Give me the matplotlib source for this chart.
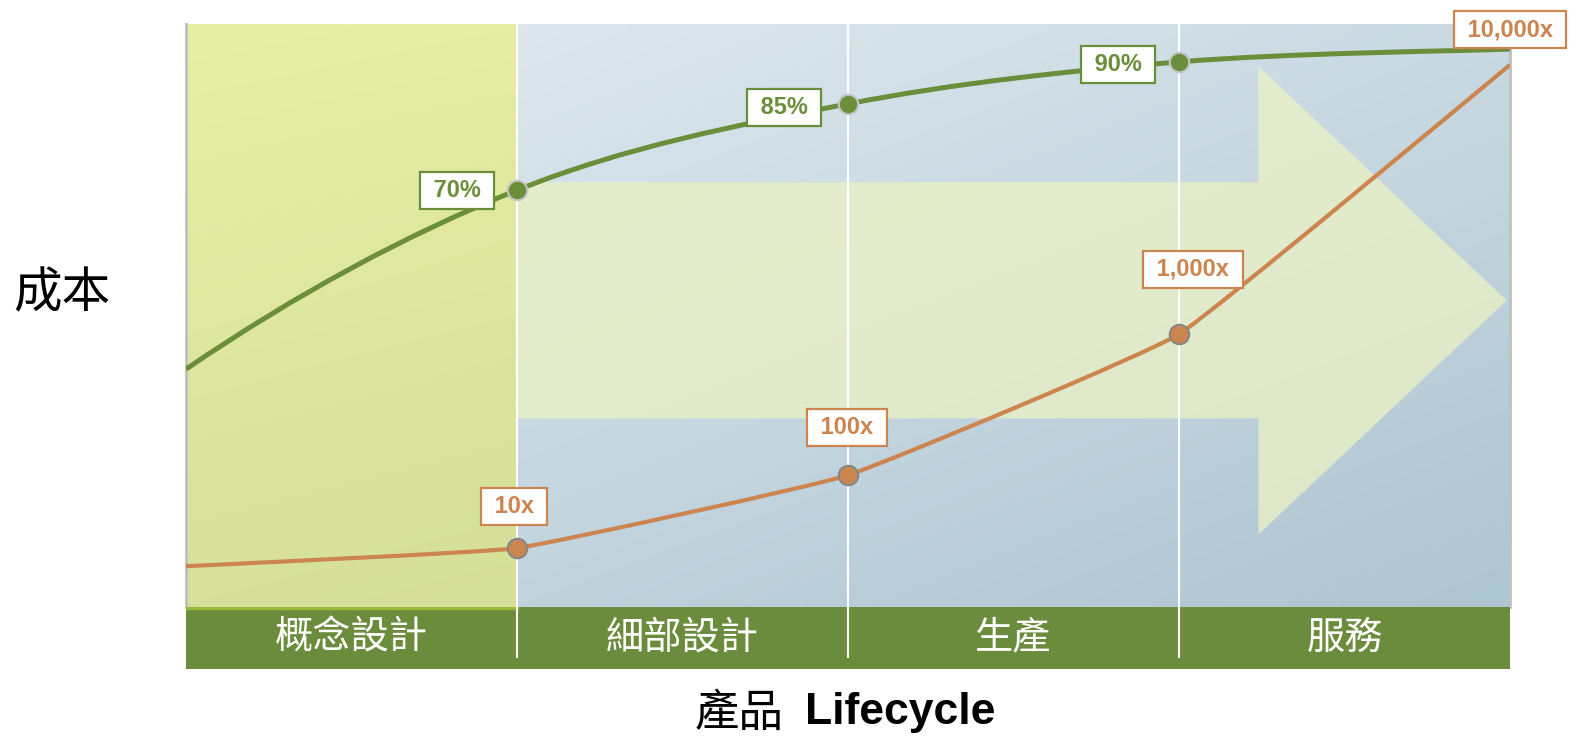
import numpy as np
import matplotlib
matplotlib.use("Agg")
import matplotlib.pyplot as plt
from matplotlib.path import Path
from matplotlib.patches import PathPatch, FancyArrow
from matplotlib.colors import to_rgb

plt.rcParams['font.family'] = ['Noto Sans CJK TC', 'DejaVu Sans']

# Data (x = phase boundary index, y = relative height 0-100)
PHASES = ['概念設計', '細部設計', '生產', '服務']
X_POINTS = [0, 1, 2, 3, 4]
GREEN_VALUES = [40.8, 71.5, 86.3, 93.5, 95.7]
ORANGE_VALUES = [7.0, 10.1, 22.6, 46.8, 93.0]
GREEN_LABELS = ['', '70%', '85%', '90%', '']
ORANGE_LABELS = ['', '10x', '100x', '1,000x', '10,000x']

# label box offsets in pixels (dx, dy)
GREEN_OFFSETS = [(0, 0), (-60, 0), (-64, -4), (-61, -3), (0, 0)]
ORANGE_OFFSETS = [(0, 0), (-3, 42), (-1, 48), (14, 65), (0, 35)]

GREEN = '#6b8e3a'
ORANGE = '#cd8550'
BAND = '#6b8c3c'

W, H = 1581, 740


def fig_rect(l, t, r, b):
    return [l / W, 1 - b / H, (r - l) / W, (b - t) / H]


def gradient(ax, extent, tl, tr, bl, br, n=60):
    """Bilinear colour gradient filling an extent"""
    u = np.linspace(0, 1, n)[None, :, None]
    v = np.linspace(0, 1, n)[:, None, None]
    tl, tr, bl, br = [np.array(to_rgb(c)) for c in (tl, tr, bl, br)]
    img = (1 - v) * ((1 - u) * tl + u * tr) + v * ((1 - u) * bl + u * br)
    ax.imshow(img, extent=extent, origin='upper', aspect='auto',
              interpolation='bilinear', zorder=0)


def smooth_path(xs, ys, tension=1.0, curved_start=False):
    """Catmull-Rom style smooth curve through the points"""
    pts = np.column_stack([xs, ys]).astype(float)
    n = len(pts)
    if curved_start:
        first = pts[2] - 3 * pts[1] + 3 * pts[0]
    else:
        first = pts[0]
    verts = [pts[0]]
    codes = [Path.MOVETO]
    for i in range(n - 1):
        p0 = first if i == 0 else pts[i - 1]
        p1 = pts[i]
        p2 = pts[i + 1]
        p3 = pts[min(i + 2, n - 1)]
        verts += [p1 + tension * (p2 - p0) / 6,
                  p2 - tension * (p3 - p1) / 6, p2]
        codes += [Path.CURVE4] * 3
    return Path(verts, codes)


fig = plt.figure(figsize=(W / 100, H / 100), dpi=100)

# Main plot area
ax = fig.add_axes(fig_rect(186, 24, 1510, 607))
gradient(ax, (1, 4, 0, 100), '#dde7ed', '#cadae2', '#c0d3dd', '#aec5d2')
gradient(ax, (0, 1, 0, 100), '#e8efa6', '#e6eda4', '#d7e19b', '#d4df99')

arrow = FancyArrow(1, 52.6, 2.99, 0, width=40.5, head_width=80.3,
                   head_length=0.75, length_includes_head=True,
                   fc='#e9f0c6', ec='none', alpha=0.8, zorder=1)
ax.add_patch(arrow)

for xb in X_POINTS[1:-1]:
    ax.axvline(xb, color='white', lw=1.5, zorder=2)

# curves
ax.add_patch(PathPatch(smooth_path(X_POINTS, GREEN_VALUES, curved_start=True),
                       fc='none', ec=GREEN, lw=3.6, capstyle='butt', zorder=3))
ax.add_patch(PathPatch(smooth_path(X_POINTS, ORANGE_VALUES, tension=0.3),
                       fc='none', ec=ORANGE, lw=3.0, capstyle='butt', zorder=3))

ax.plot(X_POINTS[1:4], GREEN_VALUES[1:4], 'o', ms=14, mfc=GREEN,
        mec='#c4c4c4', mew=1.5, zorder=4)
ax.plot(X_POINTS[1:4], ORANGE_VALUES[1:4], 'o', ms=14, mfc=ORANGE,
        mec='#858585', mew=1.5, zorder=4)

# value labels
for values, labels, offsets, color in [
        (GREEN_VALUES, GREEN_LABELS, GREEN_OFFSETS, GREEN),
        (ORANGE_VALUES, ORANGE_LABELS, ORANGE_OFFSETS, ORANGE)]:
    for x, y, lab, off in zip(X_POINTS, values, labels, offsets):
        if not lab:
            continue
        ax.annotate(' ' + lab + ' ', (x, y), xytext=off,
                    textcoords='offset pixels', ha='center', va='center',
                    fontsize=17, fontweight='bold', color=color,
                    family='Liberation Sans', annotation_clip=False,
                    bbox=dict(boxstyle='square,pad=0.3', fc='white',
                              ec=color, lw=1.6),
                    zorder=5)

ax.set_xlim(0, 4)
ax.set_ylim(0, 100)
ax.set_xticks([])
ax.set_yticks([])
for side in ['top', 'bottom']:
    ax.spines[side].set_visible(False)
for side in ['left', 'right']:
    ax.spines[side].set_color('#c0c0c0')
    ax.spines[side].set_linewidth(2)

# Phase band
band = fig.add_axes(fig_rect(186, 607, 1510, 669))
band.set_facecolor(BAND)
band.set_xlim(0, 4)
band.set_ylim(0, 1)
band.set_xticks([])
band.set_yticks([])
for side in ['top', 'bottom', 'left', 'right']:
    band.spines[side].set_visible(False)
band.plot([0, 1], [0.985, 0.985], color='#9bb83a', lw=2.5)
for xb in X_POINTS[1:-1]:
    band.plot([xb, xb], [0.19, 1], color='white', lw=1.5)
for i, name in enumerate(PHASES):
    band.text(i + 0.5, 0.5, name, ha='center', va='center', fontsize=27.5,
              color='white')

# Axis titles
fig.text(62 / W, 1 - 294 / H, '成本', fontsize=35, ha='center', va='center',
         color='black')
fig.text(784 / W, 1 - 726 / H, '產品', fontsize=32, ha='right',
         va='baseline', color='black')
fig.text(805 / W, 1 - 724 / H, 'Lifecycle', fontsize=32, ha='left',
         va='baseline', color='black', family='Liberation Sans',
         fontweight='bold')

fig.savefig('out.png', dpi=100)
